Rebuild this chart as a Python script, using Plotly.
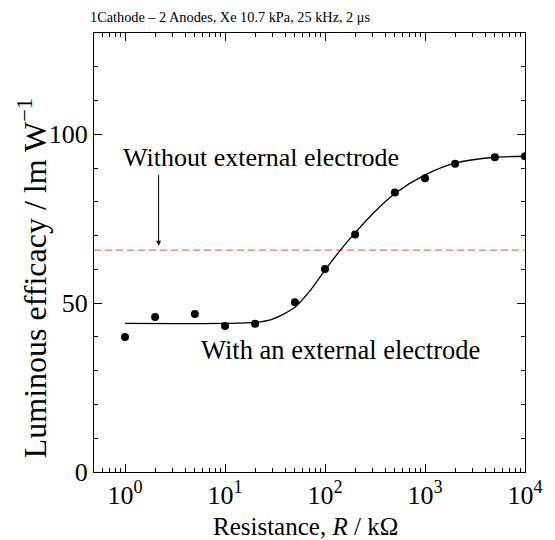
import plotly.graph_objects as go

# Measured data points
resistance = [1, 2, 5, 10, 20, 50, 100, 200, 500, 1000, 2000, 5000, 10000]
efficacy = [40.0, 45.9, 46.8, 43.2, 43.9, 50.3, 60.1, 70.3, 82.8, 87.0, 91.3, 93.2, 93.5]

# Fitted curve
fit_x = [1, 10, 20, 30, 50, 70, 100, 150, 200, 300, 500, 1000, 2000, 5000, 10000]
fit_y = [44.0, 44.0, 44.3, 45.3, 48.8, 53.5, 59.8, 66.5, 70.8, 76.5, 82.5, 88.0, 91.5, 93.2, 93.5]

# Reference level without external electrode
without_level = 65.7

x_tickvals = [1, 10, 100, 1000, 10000]
x_ticktext = ["10<sup>0</sup>", "10<sup>1</sup>", "10<sup>2</sup>", "10<sup>3</sup>", "10<sup>4</sup>"]
x_minor = [m * d for d in [0.1, 1, 10, 100, 1000] for m in range(2, 10) if 0.49 <= m * d <= 10000]
y_tickvals = [0, 50, 100]

title_text = "1Cathode – 2 Anodes, Xe 10.7 kPa, 25 kHz, 2 μs"
x_title = "Resistance, <i>R</i> / kΩ"
y_title = "Luminous efficacy / lm W<sup>−1</sup>"

FONT = "Times New Roman, Liberation Serif, serif"
OFF = 8  # default page body margin shifts the figure by 8 px
W, H = 555 - OFF, 540 - OFF
L, R, T, B = 94 - OFF, 21, 33 - OFF, 68
PW, PH = W - L - R, H - T - B


def px(xp):
    return (xp - OFF - L) / PW


def py(yp):
    return ((H - B) - (yp - OFF)) / PH


fig = go.Figure()
fig.add_trace(go.Scatter(x=[0.49, 10000], y=[without_level, without_level], mode="lines",
                         line=dict(color="#ea7462", width=1.2, dash="7px,4px"), showlegend=False))
fig.add_trace(go.Scatter(x=fit_x, y=fit_y, mode="lines", line=dict(color="black", width=1.3, shape="spline", smoothing=0.8),
                         showlegend=False))
fig.add_trace(go.Scatter(x=resistance, y=efficacy, mode="markers",
                         marker=dict(color="black", size=8), showlegend=False))

fig.add_annotation(x=0.336, y=67.0, ax=0.336, ay=88.4, xref="x", yref="y", axref="x", ayref="y",
                   showarrow=True, arrowhead=2, arrowsize=1, arrowwidth=1, arrowcolor="black", text="")
fig.add_annotation(x=1.355, y=93.2, xref="x", yref="y", text="Without external electrode",
                   showarrow=False, font=dict(family=FONT, size=26, color="black"))
fig.add_annotation(x=2.15, y=36.1, xref="x", yref="y", text="With an external electrode",
                   showarrow=False, font=dict(family=FONT, size=26.5, color="black"))

# title and axis titles placed at measured page positions
fig.add_annotation(x=px(233), y=py(8), xref="paper", yref="paper", xanchor="center", yanchor="top",
                   text=title_text, showarrow=False, borderpad=0,
                   font=dict(family=FONT, size=14.3, color="black"))
fig.add_annotation(x=px(309.5), y=py(526), xref="paper", yref="paper",
                   xanchor="center", yanchor="middle", text=x_title, showarrow=False,
                   font=dict(family=FONT, size=25, color="black"))
fig.add_annotation(x=px(31), y=py(278), xref="paper", yref="paper",
                   xanchor="center", yanchor="middle", text=y_title, textangle=-90, showarrow=False,
                   font=dict(family=FONT, size=32, color="black"))

fig.update_layout(
    width=W, height=H,
    margin=dict(l=L, r=R, t=T, b=B),
    paper_bgcolor="white", plot_bgcolor="white",
    font=dict(family=FONT, color="black"),
)
fig.update_xaxes(type="log", range=[-0.31, 4.0], tickvals=x_tickvals, ticktext=x_ticktext,
                 ticks="inside", ticklen=8, tickwidth=1, tickcolor="black",
                 showline=True, linecolor="black", linewidth=1.3, mirror="allticks",
                 showgrid=False, zeroline=False, tickfont=dict(family=FONT, size=26),
                 minor=dict(tickvals=x_minor, ticks="inside", ticklen=4, tickcolor="black", showgrid=False))
fig.update_yaxes(range=[0, 130], tickvals=y_tickvals,
                 ticks="inside", ticklen=8, tickwidth=1, tickcolor="black",
                 showline=True, linecolor="black", linewidth=1.3, mirror="allticks",
                 showgrid=False, zeroline=False, tickfont=dict(family=FONT, size=26),
                 minor=dict(dtick=10, ticks="inside", ticklen=4, tickcolor="black", showgrid=False))

fig.write_html("out.html")
